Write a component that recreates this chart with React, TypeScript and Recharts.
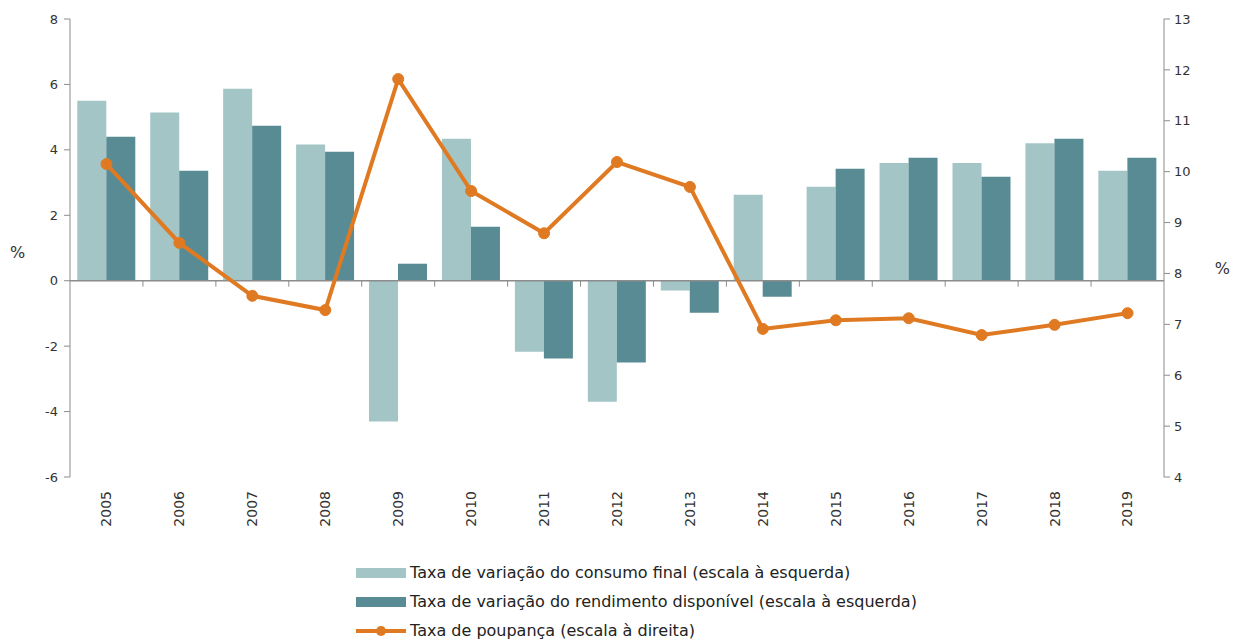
import { ComposedChart, Bar, Line, XAxis, YAxis, ReferenceLine } from 'recharts';

const anos = ['2005', '2006', '2007', '2008', '2009', '2010', '2011', '2012', '2013', '2014', '2015', '2016', '2017', '2018', '2019'];
const consumoFinal = [5.5, 5.14, 5.87, 4.16, -4.3, 4.34, -2.17, -3.7, -0.3, 2.63, 2.87, 3.6, 3.6, 4.2, 3.36];
const rendimentoDisp = [4.4, 3.36, 4.74, 3.94, 0.52, 1.65, -2.38, -2.5, -0.98, -0.49, 3.42, 3.76, 3.18, 4.34, 3.76];
const taxaPoupanca = [10.15, 8.6, 7.56, 7.28, 11.82, 9.62, 8.79, 10.19, 9.7, 6.91, 7.08, 7.12, 6.79, 6.99, 7.22];
const ticksEsq = [-6, -4, -2, 0, 2, 4, 6, 8];
const ticksDir = [4, 5, 6, 7, 8, 9, 10, 11, 12, 13];

const data = anos.map((ano, i) => ({
  ano,
  consumo: consumoFinal[i],
  rendimento: rendimentoDisp[i],
  poupanca: taxaPoupanca[i],
}));

const COR_CLARA = '#a3c5c6';
const COR_ESCURA = '#588b93';
const COR_LARANJA = '#e07a22';
const COR_EIXO = '#8c8c8c';
const FONTE = '"DejaVu Sans", Verdana, sans-serif';

// geometria da área do gráfico (usada só para os tracinhos no eixo zero)
const TOPO = 19;
const ALTURA = 458;
const LARG_CAT = 1094 / 15;
const zeroY = TOPO + (ALTURA * 8) / 14;

function TickAno({ x, y, payload, index }: any) {
  return (
    <g>
      {index < anos.length - 1 && (
        <line x1={x + LARG_CAT / 2} x2={x + LARG_CAT / 2} y1={zeroY} y2={zeroY + 6} stroke={COR_EIXO} />
      )}
      <text
        transform={`translate(${x},${y + 6}) rotate(-90)`}
        textAnchor="end"
        dy="0.35em"
        fontSize={14}
        fill="#333"
        fontFamily={FONTE}
      >
        {payload.value}
      </text>
    </g>
  );
}

function Legenda() {
  const itens = [
    { nome: 'Taxa de variação do consumo final (escala à esquerda)', tipo: 'barra', cor: COR_CLARA },
    { nome: 'Taxa de variação do rendimento disponível (escala à esquerda)', tipo: 'barra', cor: COR_ESCURA },
    { nome: 'Taxa de poupança (escala à direita)', tipo: 'linha', cor: COR_LARANJA },
  ];
  return (
    <div style={{ position: 'absolute', left: 356, top: 558, fontFamily: FONTE, fontSize: 16, color: '#222' }}>
      {itens.map(it => (
        <div key={it.nome} style={{ display: 'flex', alignItems: 'center', height: 29 }}>
          <svg width={50} height={14} style={{ marginRight: 4 }}>
            {it.tipo === 'barra' ? (
              <rect x={0} y={2} width={50} height={10} fill={it.cor} />
            ) : (
              <g>
                <line x1={0} x2={50} y1={7} y2={7} stroke={it.cor} strokeWidth={4} />
                <circle cx={25} cy={7} r={5} fill={it.cor} />
              </g>
            )}
          </svg>
          <span>{it.nome}</span>
        </div>
      ))}
    </div>
  );
}

export default function App() {
  return (
    <div style={{ position: 'absolute', left: 0, top: 0, width: 1235, height: 641, background: '#fff' }}>
      <ComposedChart
        width={1235}
        height={545}
        data={data}
        margin={{ top: TOPO, right: 0, left: 0, bottom: 0 }}
        barCategoryGap="10%"
        barGap={0}
      >
        <XAxis dataKey="ano" axisLine={false} tickLine={false} height={68} tick={<TickAno />} interval={0} />
        <YAxis
          yAxisId="esq"
          width={70}
          domain={[-6, 8]}
          ticks={ticksEsq}
          stroke={COR_EIXO}
          tick={{ fill: '#333', fontSize: 13, fontFamily: FONTE }}
          tickSize={6}
          tickMargin={6}
          label={{ value: '%', position: 'insideLeft', offset: 10, dy: 4, fill: '#333', fontSize: 16, fontFamily: FONTE }}
        />
        <YAxis
          yAxisId="dir"
          orientation="right"
          width={71}
          domain={[4, 13]}
          ticks={ticksDir}
          stroke={COR_EIXO}
          tick={{ fill: '#333', fontSize: 13, fontFamily: FONTE }}
          tickSize={6}
          tickMargin={4}
          label={{ value: '%', position: 'insideRight', offset: 5, dy: 20, fill: '#333', fontSize: 16, fontFamily: FONTE }}
        />
        <Bar yAxisId="esq" dataKey="consumo" fill={COR_CLARA} isAnimationActive={false} />
        <Bar yAxisId="esq" dataKey="rendimento" fill={COR_ESCURA} isAnimationActive={false} />
        <ReferenceLine yAxisId="esq" y={0} stroke={COR_EIXO} strokeWidth={1.5} />
        <Line
          yAxisId="dir"
          dataKey="poupanca"
          type="linear"
          stroke={COR_LARANJA}
          strokeWidth={4}
          dot={{ r: 5.5, fill: COR_LARANJA, stroke: COR_LARANJA, strokeWidth: 1 }}
          activeDot={false}
          isAnimationActive={false}
        />
      </ComposedChart>
      <Legenda />
    </div>
  );
}
